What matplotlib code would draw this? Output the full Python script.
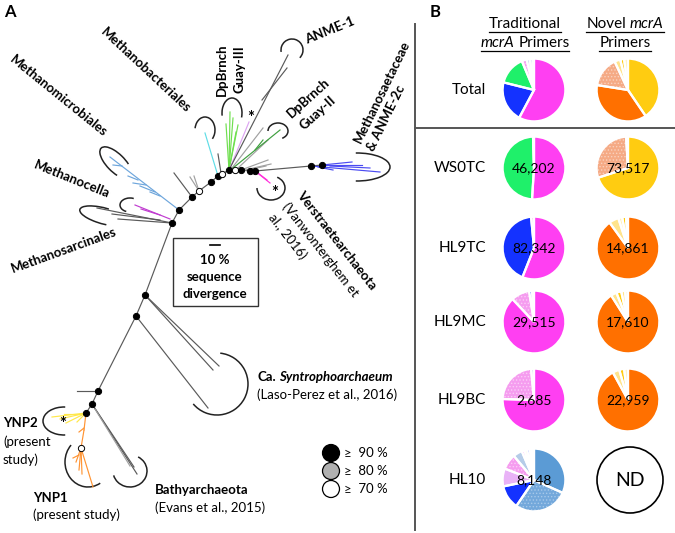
import matplotlib
matplotlib.use('Agg')
import matplotlib.pyplot as plt
from matplotlib.patches import Arc, Circle, Rectangle

plt.rcParams['font.family'] = ['Lato', 'DejaVu Sans']
plt.rcParams['hatch.linewidth'] = 0.6

W, H = 675, 533
fig = plt.figure(figsize=(6.75, 5.33), dpi=100)
ax = fig.add_axes([0, 0, 1, 1])
ax.set_xlim(0, W)
ax.set_ylim(H, 0)
ax.axis('off')
renderer = fig.canvas.get_renderer()

# ---------------- Panel B data ----------------
samples = ['Total', 'WS0TC', 'HL9TC', 'HL9MC', 'HL9BC', 'HL10']
trad_counts = ['', '46,202', '82,342', '29,515', '2,685', '8,148']
novel_counts = ['', '73,517', '14,861', '17,610', '22,959', 'ND']

col = {
    'mag': '#FF3FF2', 'grn': '#1FF06A', 'blu': '#1432FF', 'lpk': '#F59CEF',
    'lbl': '#B5CCE8', 'sbl': '#5B9BD5', 'sbd': '#73A8DB', 'vio': '#E9B2F7',
    'gold': '#FFCC11', 'org': '#FF7000', 'sal': '#F5AA85', 'lyl': '#FFE48C',
    'pyl': '#FFF1B8',
}
dot_col = {'lpk': '#FBCDF8', 'sbd': '#A8C9EA', 'sal': '#FAD2BE'}

trad_vals = [
    [57.5, 21.0, 14.7, 2.5, 1.6, 1.4, 0.8],
    [51.0, 48.5, 0.5],
    [56.0, 42.5, 1.5],
    [88.0, 9.5, 1.5, 1.0],
    [75.5, 23.0, 1.5],
    [31.7, 27.8, 12.2, 9.2, 8.0, 4.7, 1.4, 1.4, 1.4, 1.2, 1.0],
]
trad_cols = [
    ['mag', 'blu', 'grn', 'lpk', 'lbl', 'sbd', 'sbl'],
    ['mag', 'grn', 'lbl'],
    ['mag', 'blu', 'lpk'],
    ['mag', 'lpk', 'blu', 'lbl'],
    ['mag', 'lpk', 'lbl'],
    ['sbl', 'sbd', 'blu', 'vio', 'lpk', 'lbl', 'mag', 'pyl', 'blu', 'lbl', 'sbl'],
]
novel_vals = [
    [40.5, 37.0, 15.5, 3.0, 2.0, 2.0],
    [70.0, 29.0, 1.0],
    [90.0, 5.0, 2.0, 2.0, 1.0],
    [91.0, 3.0, 2.5, 2.0, 1.5],
    [92.0, 3.5, 2.5, 2.0],
    [],
]
novel_cols = [
    ['gold', 'org', 'sal', 'lyl', 'gold', 'pyl'],
    ['gold', 'sal', 'pyl'],
    ['org', 'lyl', 'pyl', 'gold', 'pyl'],
    ['org', 'lyl', 'gold', 'lyl', 'pyl'],
    ['org', 'lyl', 'gold', 'pyl'],
    [],
]

# layout of panel B
row_y = [90, 168, 248, 322, 400, 480]
trad_x, novel_x, pie_r = 534, 628, 32


def draw_pie(cx, cy, r, vals, keys, label):
    pax = fig.add_axes([(cx - r) / W, 1 - (cy + r) / H, 2 * r / W, 2 * r / H])
    cols = [col[k] for k in keys]
    wedges, _ = pax.pie(vals, colors=cols, startangle=90, counterclock=False,
                        radius=1, wedgeprops=dict(linewidth=0))
    for w, k in zip(wedges, keys):
        if k in dot_col:
            w.set_hatch('.....')
            w.set_edgecolor(dot_col[k])
            w.set_linewidth(0)
    pax.pie(vals, colors=['none'] * len(vals), startangle=90, counterclock=False,
            radius=1, wedgeprops=dict(linewidth=1.6, edgecolor='white', facecolor='none'))
    pax.set_xlim(-1.02, 1.02)
    pax.set_ylim(-1.02, 1.02)
    pax.axis('off')
    if label:
        pax.text(0, 0, label, ha='center', va='center', fontsize=10, color='black')


for i, s in enumerate(samples):
    ax.text(486, row_y[i], s, ha='right', va='center', fontsize=11)
    draw_pie(trad_x, row_y[i], pie_r, trad_vals[i], trad_cols[i], trad_counts[i])
    if novel_vals[i]:
        draw_pie(novel_x, row_y[i], pie_r, novel_vals[i], novel_cols[i], novel_counts[i])
    else:
        ax.add_patch(Circle((novel_x + 2, row_y[i]), 33, facecolor='white',
                            edgecolor='black', lw=1.2))
        ax.text(novel_x + 2, row_y[i], novel_counts[i], ha='center', va='center', fontsize=14)

# headers with underlines
def width_of(s, **kw):
    t = ax.text(0, 0, s, **kw)
    w = t.get_window_extent(renderer).width
    t.remove()
    return w


def rich(x, y, parts, ha='left', underline=False, **kw):
    widths = [width_of(p, **kw, **st) for p, st in parts]
    sp = width_of('M M', **kw) - width_of('MM', **kw)
    total = sum(widths) + sp * (len(parts) - 1)
    x0 = x - total / 2 if ha == 'center' else x
    xs = x0
    for (p, st), w in zip(parts, widths):
        ax.text(xs, y, p, ha='left', va='center', **kw, **st)
        xs += w + sp
    if underline:
        ax.plot([x0, x0 + total], [y + 8, y + 8], color='black', lw=0.9)


hdr = dict(fontsize=11)
rich(525, 24, [('Traditional', {})], ha='center', underline=True, **hdr)
rich(525, 43, [('mcrA', {'style': 'italic'}), ('Primers', {})], ha='center', underline=True, **hdr)
rich(625, 24, [('Novel', {}), ('mcrA', {'style': 'italic'})], ha='center', underline=True, **hdr)
rich(625, 43, [('Primers', {})], ha='center', underline=True, **hdr)

# dividers
ax.plot([415, 415], [24, 530], color='#555555', lw=1.4)
ax.plot([415, 675], [128, 128], color='#555555', lw=1.4)

ax.text(4, 12, 'A', fontsize=12, fontweight='bold', va='center')
ax.text(430, 12, 'B', fontsize=12, fontweight='bold', va='center')

# ---------------- Panel A: tree ----------------
backbone_x = [86, 92, 98, 136, 145, 172, 179, 192, 199, 211, 218, 222, 229, 235, 241, 250, 255, 311, 322]
backbone_y = [413, 404, 391, 316, 295, 223, 210, 197, 191, 182, 176, 174, 170, 170, 170, 171, 171, 166, 165]
backbone_support = [90, 90, 90, 90, 90, 90, 90, 90, 70, 90, 90, 70, 90, 70, 90, 90, 90, 90, 90]

tc = {'gray': '#5a5a5a', 'lgray': '#a0a0a0', 'yel': '#FFE84A', 'ora': '#FF9433',
      'pur': '#C03CD0', 'mblue': '#6EA6DC', 'cyan': '#5FDDE6', 'grn': '#6FDF4F',
      'vio': '#DDA4F2', 'dgrn': '#3F9F3F', 'mag': '#FF2FDA', 'blue': '#4B4BF2'}

branches = [
    # (x0, y0, x1, y1, colour key)
    (92, 404, 137, 474, 'gray'), (92, 404, 134, 467, 'gray'), (95, 409, 130, 466, 'lgray'),
    (145, 295, 213, 370, 'gray'), (145, 295, 219, 366, 'gray'), (136, 316, 208, 408, 'gray'),
    (98, 391, 77, 391, 'gray'),
    (86, 413, 52, 417, 'yel'), (86, 413, 60, 419, 'yel'), (86, 413, 66, 423, 'yel'),
    (86, 413, 77, 422, 'yel'), (84, 414, 64, 414, 'yel'),
    (86, 413, 84, 430, 'ora'), (84, 430, 81, 448, 'ora'), (84, 428, 79, 432, 'ora'),
    (81, 448, 76, 462, 'ora'), (81, 448, 79, 470, 'ora'), (81, 448, 82, 474, 'ora'),
    (81, 448, 93, 487, 'ora'), (79, 455, 73, 458, 'ora'),
    (172, 223, 97, 208, 'gray'), (172, 223, 118, 219, 'gray'), (160, 220, 112, 214, 'gray'),
    (170, 219, 135, 205, 'pur'), (160, 215, 141, 209, 'pur'),
    (179, 210, 110, 157, 'mblue'), (160, 196, 150, 192, 'mblue'), (146, 185, 133, 183, 'mblue'),
    (138, 180, 128, 176, 'mblue'), (122, 166, 113, 165, 'mblue'), (155, 192, 140, 186, 'mblue'),
    (192, 197, 174, 173, 'gray'), (199, 191, 190, 177, 'lgray'), (199, 191, 194, 176, 'lgray'),
    (218, 176, 205, 133, 'cyan'), (221, 173, 218, 154, 'gray'),
    (229, 170, 230, 112, 'grn'), (229, 170, 233, 118, 'grn'), (229, 170, 238, 125, 'grn'),
    (229, 170, 226, 124, 'grn'), (229, 170, 236, 132, 'grn'),
    (230, 168, 249, 122, 'vio'),
    (229, 170, 288, 55, 'gray'), (262, 100, 287, 68, 'gray'),
    (232, 168, 263, 128, 'lgray'), (238, 168, 268, 140, 'lgray'),
    (233, 168, 280, 130, 'dgrn'), (255, 150, 263, 140, 'dgrn'),
    (241, 170, 268, 160, 'lgray'), (245, 170, 271, 164, 'lgray'), (248, 170, 266, 166, 'lgray'),
    (255, 171, 270, 183, 'mag'), (258, 173, 267, 180, 'mag'),
    (311, 166, 380, 172, 'blue'), (322, 165, 352, 162, 'blue'), (322, 165, 362, 165, 'blue'),
    (318, 167, 333, 170, 'blue'), (330, 166, 370, 168, 'blue'),
]

ax.plot(backbone_x, backbone_y, color=tc['gray'], lw=0.85, zorder=2)
for x0, y0, x1, y1, k in branches:
    ax.plot([x0, x1], [y0, y1], color=tc[k], lw=0.85, zorder=2)

extra_nodes_x = [81]
extra_nodes_y = [448]
extra_support = [70]
nodes_x = backbone_x + extra_nodes_x
nodes_y = backbone_y + extra_nodes_y
support = backbone_support + extra_support
fill = {90: 'black', 80: '#b0b0b0', 70: 'white'}
for x, y, s in zip(nodes_x, nodes_y, support):
    ax.plot(x, y, 'o', ms=4.5, mfc=fill[s], mec='black', mew=0.7, zorder=4)

# clade brackets: (cx, cy, width, height, angle, theta1, theta2)
arcs = [
    (64, 421, 42, 28, 0, 85, 275),          # YNP2
    (88, 462, 46, 50, 0, 60, 225),          # YNP1
    (130, 471, 34, 32, 0, -60, 165),        # Bathyarchaeota
    (217, 384, 62, 62, 0, -84, 140),        # Syntrophoarchaeum
    (271, 188, 28, 24, 0, -60, 180),        # Verstraetearchaeota
    (357, 167, 66, 28, 0, -95, 95),         # Methanosaetaceae
    (278, 131, 20, 16, 0, 180, 420),        # Guay-II
    (292, 50, 22, 22, 0, 170, 405),         # ANME-1
    (232, 113, 20, 30, 0, 165, 385),        # Guay-III
    (205, 130, 20, 26, 0, 190, 410),        # Methanobacteriales
    (116, 163, 42, 18, 45, 40, 320),        # Methanomicrobiales
    (130, 205, 20, 14, 0, 120, 300),        # Methanocella
    (104, 216, 50, 16, 15, 60, 290),        # Methanosarcinales
]
for cx, cy, w, h, a, t1, t2 in arcs:
    ax.add_patch(Arc((cx, cy), w, h, angle=a, theta1=t1, theta2=t2, color='#222222', lw=1.1))

# clade labels
lab = dict(fontsize=9.5, fontweight='bold', ha='center', va='center', rotation_mode='anchor')
ax.text(146, 70, 'Methanobacteriales', rotation=-43, **lab)
ax.text(58, 96, 'Methanomicrobiales', rotation=-39, **lab)
ax.text(72, 179, 'Methanocella', rotation=-22, **lab)
ax.text(64, 250, 'Methanosarcinales', rotation=20, **lab)
ax.text(330, 31, 'ANME-1', rotation=22, **lab)
ax.text(222, 70, 'DpBrnch', rotation=90, **lab)
ax.text(239, 69, 'Guay-III', rotation=90, **lab)
ax.text(308, 98, 'DpBrnch', rotation=42, **lab)
ax.text(318, 113, 'Guay-II', rotation=42, **lab)
ax.text(382, 92, 'Methanosaetaceae', rotation=64, **lab)
ax.text(386, 118, '& ANME-2c', rotation=64, **lab)
lab_l = dict(fontsize=9.5, ha='left', va='center', rotation_mode='anchor', rotation=-52)
ax.text(299, 193, 'Verstraetearchaeota', fontweight='bold', **lab_l)
ax.text(285, 204, '(Vanwonterghem et', **lab_l)
ax.text(271, 215, 'al., 2016)', **lab_l)

rich(257, 377, [('Ca.', {'fontweight': 'bold'}),
                ('Syntrophoarchaeum', {'fontweight': 'bold', 'style': 'italic'})], fontsize=9.5)
ax.text(257, 395, '(Laso-Perez et al., 2016)', fontsize=9.5, va='center')
ax.text(155, 490, 'Bathyarchaeota', fontsize=9.5, fontweight='bold', va='center')
ax.text(155, 508, '(Evans et al., 2015)', fontsize=9.5, va='center')
ax.text(3, 423, 'YNP2', fontsize=9.5, fontweight='bold', va='center')
ax.text(3, 442, '(present', fontsize=9.5, va='center')
ax.text(3, 460, 'study)', fontsize=9.5, va='center')
ax.text(33, 498, 'YNP1', fontsize=9.5, fontweight='bold', va='center')
ax.text(33, 515, '(present study)', fontsize=9.5, va='center')

for sx, sy in [(251, 118), (275, 193), (63, 424)]:
    ax.text(sx, sy, '*', fontsize=12, fontweight='bold', ha='center', va='center')

# scale box
ax.add_patch(Rectangle((173, 238), 85, 68, facecolor='white', edgecolor='#333333', lw=1.0))
ax.plot([210, 220], [245, 245], color='black', lw=1.2)
ax.text(215, 260, '10 %', fontsize=9.5, fontweight='bold', ha='center', va='center')
ax.text(215, 277, 'sequence', fontsize=9.5, fontweight='bold', ha='center', va='center')
ax.text(215, 294, 'divergence', fontsize=9.5, fontweight='bold', ha='center', va='center')

# legend
legend_levels = [90, 80, 70]
legend_y = [453, 471, 489]
for lv, ly in zip(legend_levels, legend_y):
    ax.add_patch(Circle((331, ly), 8.5, facecolor=fill[lv], edgecolor='black', lw=0.9))
    ax.text(344, ly, '\u2265  %d %%' % lv, fontsize=9.5, va='center')

fig.savefig('out.png', dpi=100)
